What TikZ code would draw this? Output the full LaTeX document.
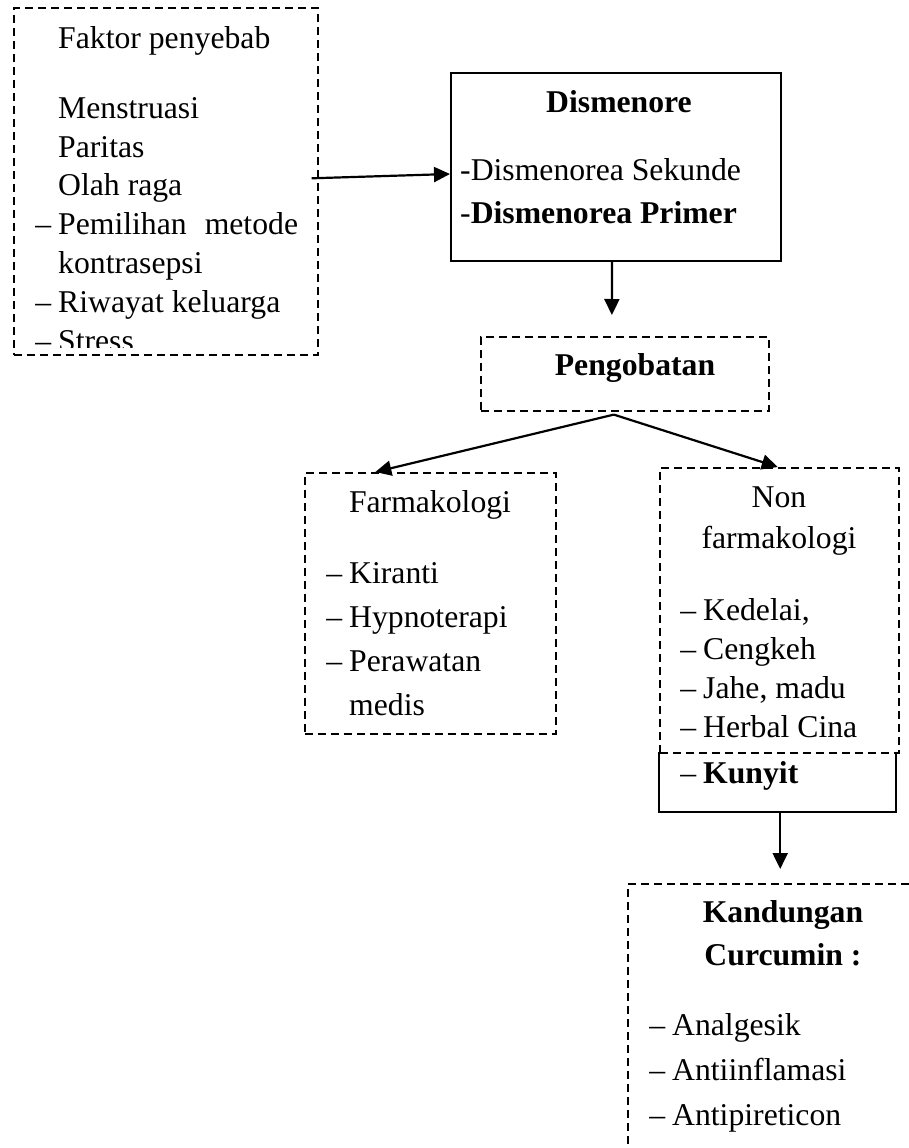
\documentclass[tikz,border=0pt]{standalone}
\usepackage{fontspec}
\setmainfont{Liberation Serif}
\usetikzlibrary{positioning, arrows.meta}

\newcommand{\itm}{\llap{–\hspace{7pt}}}
\newcommand{\fsz}[1]{\fontsize{31.7}{#1}\selectfont}

\begin{document}
\begin{tikzpicture}[
    x=1pt, y=-1pt,
    dashbox/.style={draw, dash pattern=on 8pt off 5pt, line width=1.6pt,
                    inner sep=0pt, anchor=north west},
    solidbox/.style={draw, line width=2pt, inner sep=0pt, anchor=north west},
    arrow/.style={-{Triangle[length=16pt, width=15pt]}, line width=2.2pt},
    head/.style={font=\fsz{43}, anchor=base, align=center, inner sep=0pt},
    headbold/.style={head, font=\fsz{43}\bfseries},
    txt/.style={font=\fsz{43}, anchor=base west, align=left, inner sep=0pt}
  ]
    \useasboundingbox (0,0) rectangle (909,1148);

    % factor box, last line cut by the frame (text placed by its last line)
    \begin{scope}
      \clip (13,7) rectangle (317,347);
      \node[txt, font=\fsz{38.8}] (faktorText) at (58,351)
        {Faktor penyebab\\[31.2pt]
         Menstruasi\\Paritas\\Olah raga\\
         \itm Pemilihan\hspace{18pt}metode\\kontrasepsi\\
         \itm Riwayat keluarga\\\itm Stress};
    \end{scope}
    \node[dashbox, minimum width=304pt, minimum height=347pt] (faktor) at (13,7) {};

    % main boxes
    \node[solidbox, minimum width=330pt, minimum height=188pt] (dis) at (450,72) {};
    \node[headbold] (disTitle) at (619,112) {Dismenore};
    \node[txt] (disList) at (460,223) {-Dismenorea Sekunde\\-\textbf{Dismenorea Primer}};

    \node[dashbox, minimum width=288pt, minimum height=74pt] (peng) at (480,336) {};
    \node[headbold] (pengTitle) at (635,375) {Pengobatan};

    \node[dashbox, minimum width=251pt, minimum height=261pt] (farm) at (304,472) {};
    \node[head] (farmTitle) at (430,512) {Farmakologi};
    \node[txt, font=\fsz{44}] (farmList) at (349,715)
      {\itm Kiranti\\\itm Hypnoterapi\\\itm Perawatan\\medis};

    \node[inner sep=0pt, anchor=north west, minimum width=237pt, minimum height=60pt] (kunyit) at (659,752) {};
    \draw[line width=2pt] (kunyit.north west) -- (kunyit.south west)
      -- (kunyit.south east) -- (kunyit.north east);
    \node[dashbox, minimum width=239pt, minimum height=285pt] (non) at (659,467) {};
    \node[head, font=\fsz{41}] (nonTitle) at (779,548) {Non\\farmakologi};
    \node[txt, font=\fsz{39}] (nonList) at (703,737)
      {\itm Kedelai,\\\itm Cengkeh\\\itm Jahe, madu\\\itm Herbal Cina};
    \node[txt] (kunyitText) at (703,783) {\itm \textbf{Kunyit}};

    \node[dashbox, minimum width=312pt, minimum height=320pt] (kand) at (627,883) {};
    \node[headbold] (kandTitle) at (783,965) {Kandungan\\Curcumin :};
    \node[txt, font=\fsz{45}] (kandList) at (672,1125)
      {\itm Analgesik\\\itm Antiinflamasi\\\itm Antipireticon};

    % connectors
    \coordinate (split) at ([xshift=-11pt, yshift=-3pt]peng.south);
    \draw[arrow] ([xshift=-7pt, yshift=3pt]faktor.east) -- ([yshift=-7pt]dis.west);
    \draw[arrow, shorten >=21pt] ([xshift=-4pt]dis.south) -- ([xshift=-13pt]peng.north);
    \draw[arrow] (split) -- ([xshift=-55pt]farm.north);
    \draw[arrow] (split) -- ([xshift=-1.5pt]non.north);
    \draw[arrow, shorten >=14pt] ([xshift=2.5pt]kunyit.south) -- ([xshift=2.5pt]kunyit.south |- kand.north);
  \end{tikzpicture}
\end{document}
